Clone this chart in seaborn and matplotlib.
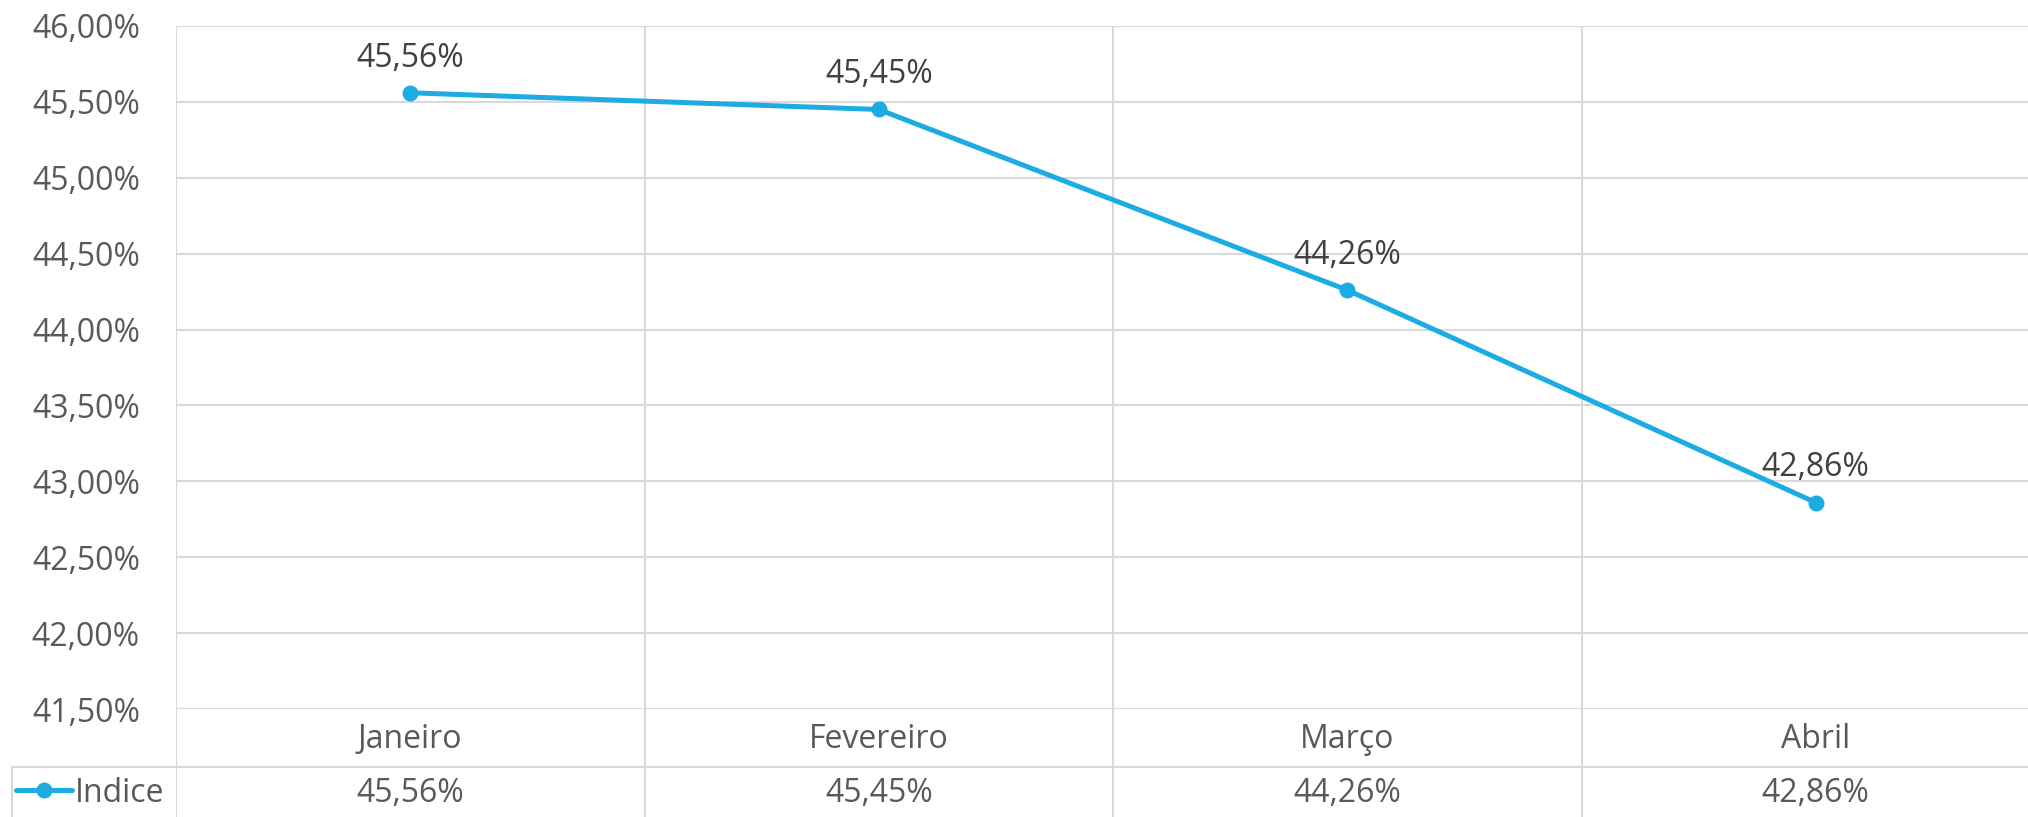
import seaborn as sns
import numpy as np
import pandas as pd
import matplotlib.pyplot as plt
from matplotlib.lines import Line2D

# data
months = ["Janeiro", "Fevereiro", "Março", "Abril"]
indice = [45.56, 45.45, 44.26, 42.86]
y_ticks = [41.5, 42.0, 42.5, 43.0, 43.5, 44.0, 44.5, 45.0, 45.5, 46.0]
series_name = "Indice"

def pct(v):
    return f"{v:.2f}%".replace(".", ",")

sns.set_theme(style="white")
plt.rcParams["font.family"] = ["Open Sans", "DejaVu Sans"]

W, H = 2028, 817
fig = plt.figure(figsize=(W / 100, H / 100), dpi=100)

blue = "#1CACE3"
grid_c = "#D9D9D9"
text_c = "#595959"
fs = 23
glw = 1.5

# main plot area (pixel layout from reference; last column runs past the image edge)
left, right, top, axis_y = 176, 2050, 26, 709
ax = fig.add_axes([left / W, (H - axis_y) / H, (right - left) / W, (axis_y - top) / H])
df = pd.DataFrame({"x": np.arange(len(months)), "y": indice})
sns.lineplot(data=df, x="x", y="y", ax=ax, color=blue, linewidth=3.6,
             marker="o", markersize=11.5, markeredgewidth=0, label=series_name,
             legend=False)
ax.set_xlim(-0.5, len(months) - 0.5)
ax.set_ylim(y_ticks[0], y_ticks[-1])
ax.set_yticks(y_ticks)
ax.set_yticklabels([pct(t) for t in y_ticks], color=text_c, fontsize=fs)
ax.tick_params(axis="y", length=0, pad=26)
ax.set_xticks([])
ax.set_xlabel("")
ax.set_ylabel("")
for t in y_ticks:
    ax.axhline(t, color=grid_c, lw=glw, zorder=0)
for xv in np.arange(-0.5, len(months) - 0.5):
    ax.axvline(xv, color=grid_c, lw=glw, zorder=0)
for s in ax.spines.values():
    s.set_visible(False)
for i, v in enumerate(indice):
    ax.annotate(pct(v), (i, v), xytext=(0, 25), textcoords="offset points",
                ha="center", va="center", fontsize=fs, color="#404040")

# data table under the chart
tab = fig.add_axes([left / W, 0, (right - left) / W, (H - axis_y) / H])
tab.set_xlim(-0.5, len(months) - 0.5)
tab.set_ylim(0, H - axis_y)
tab.axis("off")
sep = H - 767
for xv in np.arange(-0.5, len(months) - 0.5):
    tab.axvline(xv, color=grid_c, lw=glw)
tab.axhline(sep, color=grid_c, lw=glw)
for i, (m, v) in enumerate(zip(months, indice)):
    tab.text(i, H - 740, m, ha="center", va="center", fontsize=fs, color=text_c)
    tab.text(i, H - 793, pct(v), ha="center", va="center", fontsize=fs, color=text_c)

# legend cell at the left of the value row
fig.add_artist(Line2D([12 / W, left / W], [sep / H, sep / H], color=grid_c, lw=glw,
                      transform=fig.transFigure))
fig.add_artist(Line2D([12 / W, 12 / W], [0, sep / H], color=grid_c, lw=glw,
                      transform=fig.transFigure))
handle = Line2D([], [], color=blue, lw=3.6, marker="o", markersize=11.5, markeredgewidth=0)
fig.legend([handle], [series_name], loc="center left",
           bbox_to_anchor=(16 / W, (H - 793) / H), bbox_transform=fig.transFigure,
           frameon=False, fontsize=fs, handlelength=1.75, handletextpad=0.1,
           borderpad=0, borderaxespad=0, labelcolor=text_c)

fig.savefig("out.png", dpi=100)
